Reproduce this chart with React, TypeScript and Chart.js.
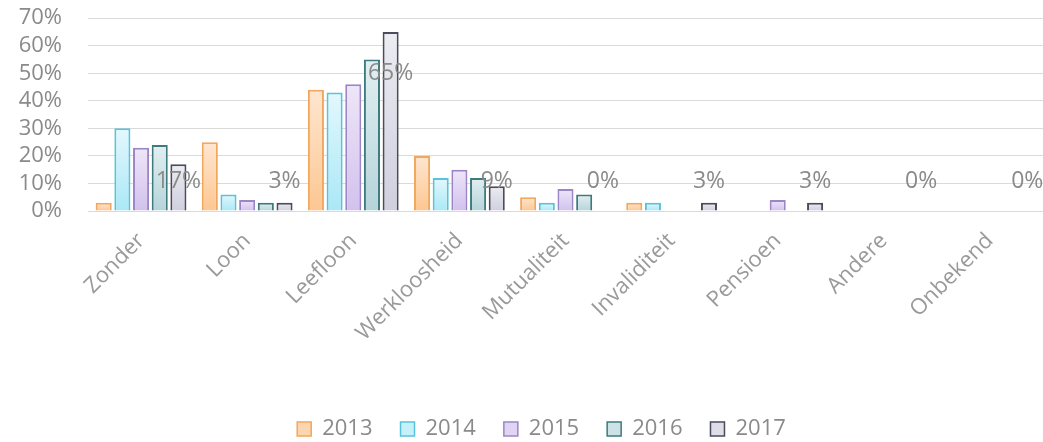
import React, { useEffect, useRef } from 'react';
import { Chart, registerables } from 'chart.js';

Chart.register(...registerables);

const categories = ['Zonder', 'Loon', 'Leefloon', 'Werkloosheid', 'Mutualiteit', 'Invaliditeit', 'Pensioen', 'Andere', 'Onbekend'];
const years = ['2013', '2014', '2015', '2016', '2017'];
const values2013 = [3, 25, 44, 20, 5, 3, 0, 0, 0];
const values2014 = [30, 6, 43, 12, 3, 3, 0, 0, 0];
const values2015 = [23, 4, 46, 15, 8, 0, 4, 0, 0];
const values2016 = [24, 3, 55, 12, 6, 0, 0, 0, 0];
const values2017 = [17, 3, 65, 9, 0, 3, 3, 0, 0];
const labelled2017 = ['17%', '3%', '65%', '9%', '0%', '3%', '3%', '0%', '0%'];
const yMax = 70;
const yStep = 10;

const seriesValues = [values2013, values2014, values2015, values2016, values2017];
const borderColors = ['#f3a75e', '#58c3da', '#9c86c6', '#3d7b7e', '#4b4b5c'];
const topColors = ['#fee6d0', '#e3f8fd', '#eee6f8', '#e2eff1', '#ececf3'];
const bottomColors = ['#fcc792', '#a9e8f6', '#d2c1ee', '#b5d4da', '#cfcfdf'];
const midColors = ['#fdd5ae', '#c6f0fa', '#e0d4f3', '#cce2e6', '#dedee9'];

const FONT = '"Open Sans", "DejaVu Sans", sans-serif';
const TEXT = '#8a8a8a';
const XTEXT = '#9a9a9a';

const dataLabelPlugin = {
  id: 'dataLabels2017',
  afterLayout(chart: any) {
    if (chart.legend) {
      chart.legend.left += 20;
      chart.legend.right += 20;
    }
  },
  afterDatasetsDraw(chart: any) {
    const meta = chart.getDatasetMeta(4);
    const yScale = chart.scales.y;
    const ctx = chart.ctx;
    ctx.save();
    ctx.font = `23px ${FONT}`;
    ctx.fillStyle = TEXT;
    ctx.textAlign = 'center';
    ctx.textBaseline = 'middle';
    meta.data.forEach((bar: any, i: number) => {
      const base = yScale.getPixelForValue(0);
      const y = Math.min(bar.y + 41, base - 30);
      ctx.fillText(labelled2017[i], bar.x, y);
    });
    ctx.restore();
  },
};

export default function App() {
  const canvasRef = useRef<HTMLCanvasElement | null>(null);

  useEffect(() => {
    if (!canvasRef.current) return;
    const datasets = years.map((year, s) => ({
      label: year,
      data: seriesValues[s],
      borderColor: borderColors[s],
      borderWidth: 2,
      backgroundColor: (context: any) => {
        const chart = context.chart;
        const area = chart.chartArea;
        if (!area || context.raw === undefined) return midColors[s];
        const yScale = chart.scales.y;
        const top = yScale.getPixelForValue(context.raw);
        const base = yScale.getPixelForValue(0);
        if (!(base - top > 1)) return bottomColors[s];
        const g = chart.ctx.createLinearGradient(0, top, 0, base);
        g.addColorStop(0, topColors[s]);
        g.addColorStop(1, bottomColors[s]);
        return g;
      },
      categoryPercentage: 0.88,
      barPercentage: 0.86,
    }));

    const chart = new Chart(canvasRef.current, {
      type: 'bar',
      data: { labels: categories, datasets },
      plugins: [dataLabelPlugin],
      options: {
        animation: false,
        responsive: true,
        maintainAspectRatio: false,
        layout: { padding: { left: 0, right: 0, top: 0, bottom: -8 } },
        plugins: {
          tooltip: { enabled: false },
          legend: {
            position: 'bottom',
            labels: {
              font: { family: FONT, size: 22 },
              color: TEXT,
              boxWidth: 14,
              boxHeight: 14,
              padding: 28,
              generateLabels: () =>
                years.map((year, s) => ({
                  text: year,
                  fillStyle: midColors[s],
                  strokeStyle: borderColors[s],
                  lineWidth: 1.5,
                  fontColor: TEXT,
                  hidden: false,
                  datasetIndex: s,
                })),
            },
          },
        },
        scales: {
          x: {
            grid: { display: false },
            border: { display: false },
            ticks: {
              font: { family: FONT, size: 22 },
              color: XTEXT,
              maxRotation: 45,
              minRotation: 45,
              autoSkip: false,
              padding: 9,
            },
            afterFit: (scale: any) => {
              scale.height = 179;
            },
          },
          y: {
            min: 0,
            max: yMax,
            grid: { color: '#dadada', lineWidth: 1, drawTicks: true, tickLength: 21, tickColor: 'rgba(0,0,0,0)' },
            border: { display: false },
            ticks: {
              stepSize: yStep,
              autoSkip: false,
              font: { family: FONT, size: 22 },
              color: TEXT,
              padding: 5,
              callback: (v: any) => `${v}%`,
            },
            afterFit: (scale: any) => {
              scale.width = 88;
            },
          },
        },
      },
    });
    return () => chart.destroy();
  }, []);

  return (
    <div style={{ position: 'fixed', left: 0, top: 0, width: 1043, height: 442, background: '#fff' }}>
      <canvas ref={canvasRef} />
    </div>
  );
}
